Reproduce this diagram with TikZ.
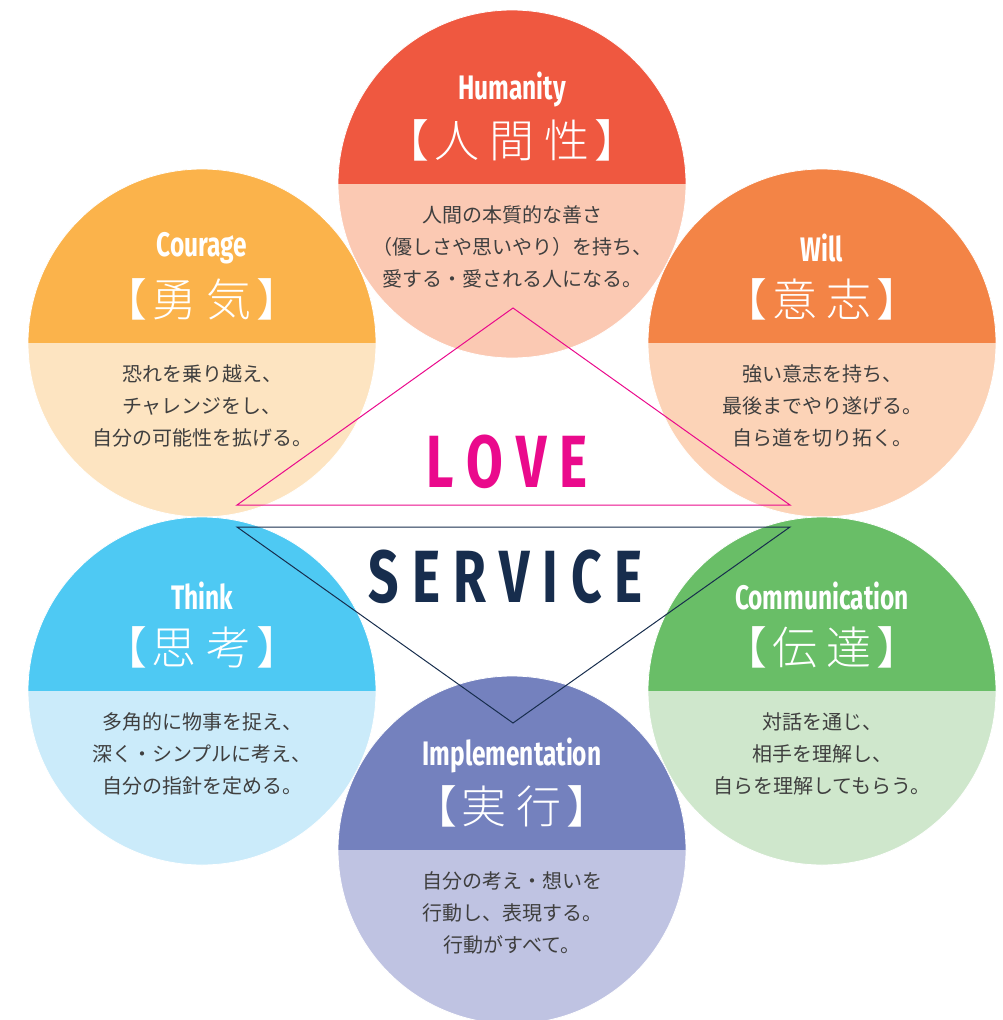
\documentclass[tikz,border=0pt]{standalone}
\usepackage{fontspec}
\setmainfont{Fira Sans}
\newfontfamily\condfont{Fira Sans}[FakeStretch=0.72]
\newfontfamily\jpfont{Noto Sans CJK JP}
\newfontfamily\jplight{Noto Sans CJK JP Light}
\usetikzlibrary{positioning}

\definecolor{humdark}{HTML}{EF5840}
\definecolor{humlight}{HTML}{FBC9B3}
\definecolor{coudark}{HTML}{FBB34B}
\definecolor{coulight}{HTML}{FDE4C1}
\definecolor{wildark}{HTML}{F38446}
\definecolor{willight}{HTML}{FCD3B7}
\definecolor{thidark}{HTML}{4EC9F3}
\definecolor{thilight}{HTML}{CBEBFA}
\definecolor{comdark}{HTML}{69BE67}
\definecolor{comlight}{HTML}{CFE7CC}
\definecolor{impdark}{HTML}{7481BE}
\definecolor{implight}{HTML}{BFC3E2}
\definecolor{lovepink}{HTML}{EA0A8C}
\definecolor{servnavy}{HTML}{172D4D}
\definecolor{bodygray}{HTML}{3F3F3F}

\newcommand\kgap{\hspace{10pt}}
\newcommand\bgap{\hspace{5pt}}
\newcommand\lgap{\hspace{13pt}}

\begin{document}
\begin{tikzpicture}[
  x=1pt, y=-1pt,
  value/.style   = {circle, minimum size=348pt, inner sep=0pt,
                    draw=white, line width=0.8pt},
  halves/.style 2 args = {fill=#2, path picture={
      \fill[#1] (path picture bounding box.north west)
                rectangle (path picture bounding box.east);}},
  entitle/.style = {text=white, font=\condfont\bfseries\fontsize{34}{34}\selectfont},
  jptitle/.style = {text=white, font=\jplight\fontsize{45}{45}\selectfont},
  body/.style    = {align=center, text=bodygray,
                    font=\jpfont\fontsize{20}{32}\selectfont},
  keyword/.style = {font=\condfont\bfseries\fontsize{74}{74}\selectfont},
  tri/.style     = {line width=1pt}
]
\useasboundingbox (0,0) rectangle (1002,1020);
\clip (0,0) rectangle (1002,1020);

% six values
\node[value, halves={humdark}{humlight}] (humanity)       at (512,184) {};
\node[value, halves={coudark}{coulight}] (courage)        at (202,343) {};
\node[value, halves={wildark}{willight}] (will)           at (822,343) {};
\node[value, halves={thidark}{thilight}] (think)          at (202,691) {};
\node[value, halves={comdark}{comlight}] (communication)  at (822,691) {};
\node[value, halves={impdark}{implight}] (implementation) at (512,850) {};

\node[entitle] (humanity-en) at ([yshift=95pt]humanity.center) {Humanity};
\node[jptitle] (humanity-jp) at ([yshift=44pt]humanity.center) {【\bgap 人\kgap 間\kgap 性\bgap】};
\node[body] (humanity-txt) at ([yshift=-63pt]humanity.center)
  {人間の本質的な善さ\\（優しさや思いやり）を持ち、\\愛する・愛される人になる。};

\node[entitle] (courage-en) at ([yshift=95pt]courage.center) {Courage};
\node[jptitle] (courage-jp) at ([yshift=44pt]courage.center) {【\bgap 勇\kgap 気\bgap】};
\node[body] (courage-txt) at ([yshift=-63pt]courage.center)
  {恐れを乗り越え、\\チャレンジをし、\\自分の可能性を拡げる。};

\node[entitle] (will-en) at ([yshift=95pt]will.center) {Will};
\node[jptitle] (will-jp) at ([yshift=44pt]will.center) {【\bgap 意\kgap 志\bgap】};
\node[body] (will-txt) at ([yshift=-63pt]will.center)
  {強い意志を持ち、\\最後までやり遂げる。\\自ら道を切り拓く。};

\node[entitle] (think-en) at ([yshift=95pt]think.center) {Think};
\node[jptitle] (think-jp) at ([yshift=44pt]think.center) {【\bgap 思\kgap 考\bgap】};
\node[body] (think-txt) at ([yshift=-63pt]think.center)
  {多角的に物事を捉え、\\深く・シンプルに考え、\\自分の指針を定める。};

\node[entitle] (communication-en) at ([yshift=95pt]communication.center) {Communication};
\node[jptitle] (communication-jp) at ([yshift=44pt]communication.center) {【\bgap 伝\kgap 達\bgap】};
\node[body] (communication-txt) at ([yshift=-63pt]communication.center)
  {対話を通じ、\\相手を理解し、\\自らを理解してもらう。};

\node[entitle] (implementation-en) at ([yshift=95pt]implementation.center) {Implementation};
\node[jptitle] (implementation-jp) at ([yshift=44pt]implementation.center) {【\bgap 実\kgap 行\bgap】};
\node[body] (implementation-txt) at ([yshift=-63pt]implementation.center)
  {自分の考え・想いを\\行動し、表現する。\\行動がすべて。};

% love / service triangles
\coordinate (love-top)   at (513,308);
\coordinate (love-left)  at (237,505);
\coordinate (love-right) at (790,505);
\coordinate (serv-left)  at (237,527);
\coordinate (serv-right) at (790,527);
\coordinate (serv-tip)   at (513,723);

\draw[tri, lovepink] (love-top) -- (love-right) -- (love-left) -- cycle;
\draw[tri, servnavy] (serv-left) -- (serv-right) -- (serv-tip) -- cycle;

\node[keyword, text=lovepink] (love)    at (507,462) {L\lgap O\lgap V\lgap E};
\node[keyword, text=servnavy] (service) at (506,577) {S\lgap E\lgap R\lgap V\lgap I\lgap C\lgap E};

\end{tikzpicture}
\end{document}
